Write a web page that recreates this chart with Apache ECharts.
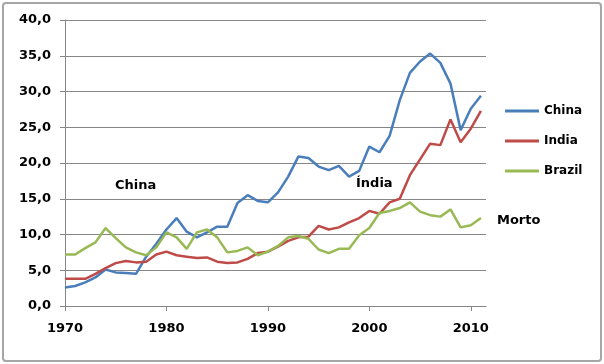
<!DOCTYPE html>
<html>
<head>
<meta charset="utf-8">
<script src="https://cdn.jsdelivr.net/npm/echarts@6/dist/echarts.min.js"></script>
<style>
html,body{margin:0;padding:0;background:#fff;}
#frame{position:absolute;left:2px;top:2px;width:596px;height:356px;border:2px solid #a6a6a6;border-radius:4px;}
#chart{position:absolute;left:0;top:0;width:604px;height:364px;}
</style>
</head>
<body>
<div id="frame"></div>
<div id="chart"></div>
<script>
var years = [];
for (var y = 1970; y <= 2011; y++) years.push(y);
var china = [2.6,2.8,3.3,4.0,5.1,4.7,4.6,4.5,6.9,8.7,10.7,12.3,10.4,9.6,10.3,11.1,11.1,14.4,15.5,14.7,14.5,15.9,18.1,20.9,20.7,19.5,19.0,19.6,18.1,18.9,22.3,21.5,23.8,28.8,32.6,34.2,35.3,34.0,31.1,24.6,27.6,29.4];
var india = [3.8,3.8,3.8,4.5,5.3,6.0,6.3,6.1,6.2,7.2,7.6,7.1,6.9,6.7,6.8,6.2,6.0,6.1,6.6,7.4,7.6,8.3,9.1,9.6,9.7,11.2,10.7,11.0,11.7,12.3,13.3,12.9,14.5,15.0,18.3,20.5,22.7,22.5,26.1,22.9,24.8,27.3];
var brazil = [7.2,7.2,8.1,8.9,10.9,9.5,8.2,7.5,7.1,8.2,10.3,9.6,8.0,10.3,10.7,9.6,7.5,7.7,8.2,7.1,7.6,8.4,9.6,9.8,9.4,7.9,7.4,8.0,8.0,9.9,10.9,13.0,13.3,13.7,14.5,13.2,12.7,12.5,13.5,11.0,11.3,12.3];
var xTicks = [1970,1980,1990,2000,2010];
var seriesNames = ['China','India','Brazil'];
var colors = ['#4A7EBB','#BE4B48','#98B954'];
var annotations = ['China','Índia','Morto'];

function pairs(arr){ return arr.map(function(v,i){ return [years[i], v]; }); }
var font = 'DejaVu Sans, Verdana, sans-serif';
var chart = echarts.init(document.getElementById('chart'), null, {renderer:'canvas'});
chart.setOption({
  animation:false,
  color: colors,
  grid:{left:65, right:118, top:20, bottom:58, containLabel:false},
  legend:{
    orient:'vertical', left:505, top:105, padding:0, itemWidth:34, itemHeight:3, itemGap:18,
    icon:'rect',
    textStyle:{fontFamily:font, fontWeight:'bold', fontSize:12, color:'#000'},
    data: seriesNames
  },
  xAxis:{
    type:'value', min:1970, max:2011.5, interval:10,
    axisLine:{show:true, lineStyle:{color:'#868686', width:1}},
    axisTick:{show:true, length:5, inside:false, customValues:xTicks, lineStyle:{color:'#868686'}},
    axisLabel:{customValues:xTicks, fontFamily:font, fontWeight:'bold', fontSize:13, color:'#000', margin:16,
      formatter:function(v){ return String(v); }},
    splitLine:{show:false}
  },
  yAxis:{
    type:'value', min:0, max:40, interval:5,
    axisLine:{show:true, lineStyle:{color:'#868686', width:1}},
    axisTick:{show:true, length:5, lineStyle:{color:'#868686'}},
    axisLabel:{fontFamily:font, fontWeight:'bold', fontSize:13, color:'#000', margin:14,
      formatter:function(v){ return v.toFixed(1).replace('.', ','); }},
    splitLine:{show:true, lineStyle:{color:'#868686', width:1}}
  },
  series:[
    {name:seriesNames[0], type:'line', data:pairs(china), symbol:'none', lineStyle:{width:2.5, color:colors[0]}, itemStyle:{color:colors[0]}},
    {name:seriesNames[1], type:'line', data:pairs(india), symbol:'none', lineStyle:{width:2.5, color:colors[1]}, itemStyle:{color:colors[1]}},
    {name:seriesNames[2], type:'line', data:pairs(brazil), symbol:'none', lineStyle:{width:2.5, color:colors[2]}, itemStyle:{color:colors[2]}}
  ],
  graphic:[
    {type:'text', left:115, top:179, style:{text:annotations[0], font:'bold 13px '+font, fill:'#000'}},
    {type:'text', left:356, top:177, style:{text:annotations[1], font:'bold 13px '+font, fill:'#000'}},
    {type:'text', left:497, top:214, style:{text:annotations[2], font:'bold 13px '+font, fill:'#000'}}
  ]
});
</script>
</body>
</html>
